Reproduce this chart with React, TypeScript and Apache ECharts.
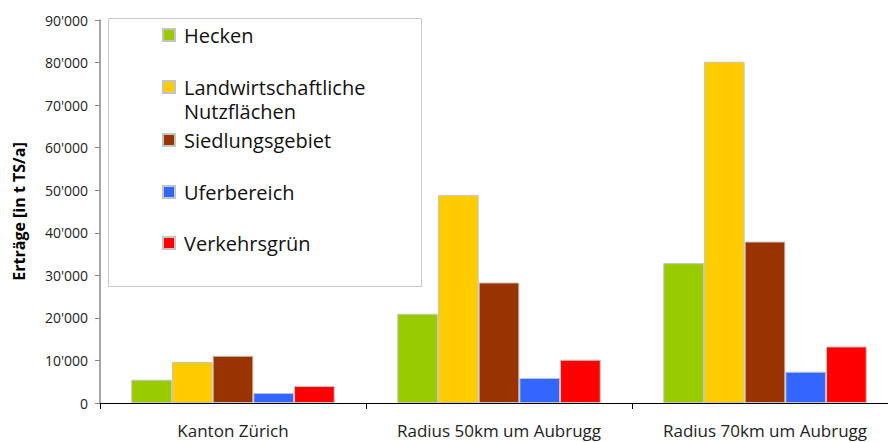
import React, { useEffect, useRef } from "react";
import * as echarts from "echarts";

const categories = ["Kanton Zürich", "Radius 50km um Aubrugg", "Radius 70km um Aubrugg"];
const seriesNames = ["Hecken", "Landwirtschaftliche Nutzflächen", "Siedlungsgebiet", "Uferbereich", "Verkehrsgrün"];
const hecken = [5470, 20970, 32870];
const landwirtschaft = [9630, 48840, 80200];
const siedlung = [11100, 28320, 37940];
const ufer = [2350, 5870, 7350];
const verkehr = [3990, 10170, 13290];
const yTicks = { min: 0, max: 90000, interval: 10000 };

const seriesValues = [hecken, landwirtschaft, siedlung, ufer, verkehr];
const colors = ["#99CC00", "#FFCC00", "#993300", "#3366FF", "#FF0000"];
const legendCenters = [35, 87, 140, 192, 243];

const FONT = "'Open Sans', sans-serif";

function fmt(v: number): string {
  return String(v).replace(/\B(?=(\d{3})+(?!\d))/g, "'");
}

export default function App() {
  const ref = useRef<HTMLDivElement>(null);
  useEffect(() => {
    document.body.style.margin = "0";
    if (!ref.current) return;
    const chart = echarts.init(ref.current, undefined, { renderer: "svg" });
    const legends = seriesNames.map((name, i) => {
      const multi = name === "Landwirtschaftliche Nutzflächen";
      return {
        show: true,
        data: [name],
        left: 162,
        top: multi ? legendCenters[i] - 36 : legendCenters[i] - 12,
        itemWidth: 12,
        itemHeight: 12,
        icon: "rect",
        selectedMode: false,
        padding: 0,
        formatter: (n: string) =>
          n === "Landwirtschaftliche Nutzflächen" ? " \nLandwirtschaftliche\nNutzflächen" : n,
        textStyle: {
          fontFamily: FONT,
          fontSize: 20,
          color: "#111",
          lineHeight: 24,
          padding: [0, 0, 0, 4],
        },
      };
    });
    chart.setOption({
      animation: false,
      backgroundColor: "#fff",
      textStyle: { fontFamily: FONT },
      grid: {
        left: 100,
        top: 20,
        width: 798,
        height: 383,
        containLabel: false,
        outerBoundsMode: "none",
      },
      graphic: [
        {
          type: "rect",
          z: 1,
          shape: { x: 108.5, y: 18.5, width: 313, height: 268 },
          style: { fill: "#fff", stroke: "#c8c8c8", lineWidth: 1 },
        },
      ],
      legend: legends,
      xAxis: {
        type: "category",
        data: categories,
        axisLine: { lineStyle: { color: "#000", width: 1 } },
        axisTick: { show: true, length: 6, lineStyle: { color: "#000" } },
        axisLabel: { fontFamily: FONT, fontSize: 17, color: "#222", margin: 19, interval: 0 },
      },
      yAxis: {
        type: "value",
        min: yTicks.min,
        max: yTicks.max,
        interval: yTicks.interval,
        name: "Erträge [in t TS/a]",
        nameLocation: "middle",
        nameGap: 73,
        nameTextStyle: { fontFamily: FONT, fontSize: 16, fontWeight: "bold", color: "#000" },
        axisLine: { show: true, lineStyle: { color: "#888", width: 1.5 } },
        axisTick: { show: true, length: 5, lineStyle: { color: "#888" } },
        splitLine: { show: false },
        axisLabel: { fontFamily: FONT, fontSize: 14, color: "#222", margin: 12, formatter: (v: number) => fmt(v) },
      },
      series: seriesNames.map((name, i) => ({
        type: "bar",
        name,
        data: seriesValues[i],
        barGap: "0%",
        barCategoryGap: "23.5%",
        itemStyle: { color: colors[i], borderColor: "#c4c4c4", borderWidth: 1 },
      })),
    });
    return () => chart.dispose();
  }, []);
  return <div ref={ref} style={{ width: 888, height: 442 }} />;
}
